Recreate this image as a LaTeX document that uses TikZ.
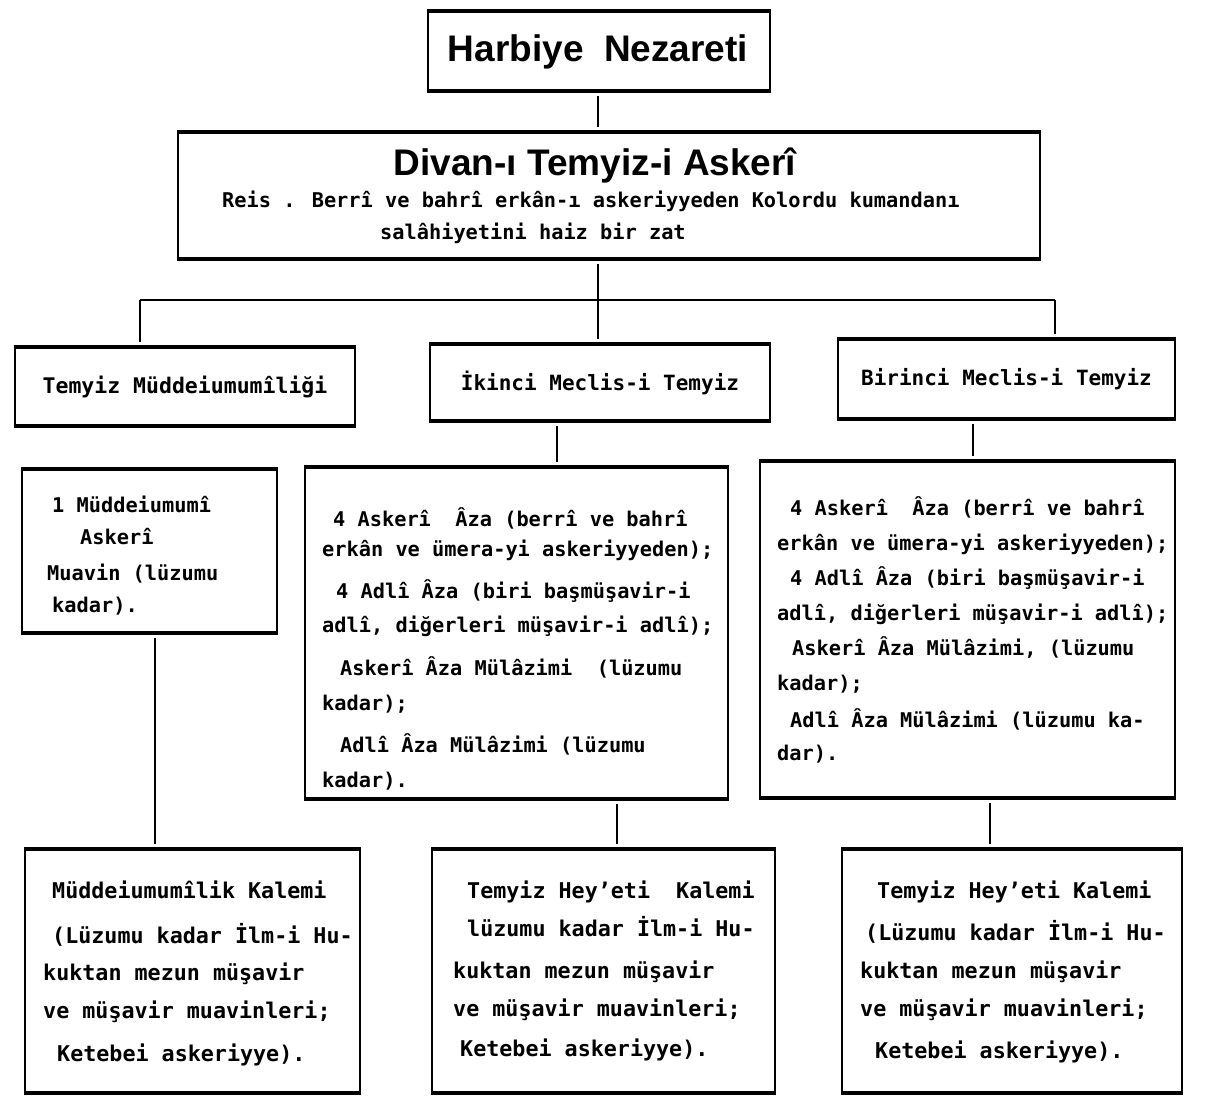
\documentclass[tikz,border=0pt]{standalone}
\usepackage{fontspec}
\setmainfont{DejaVu Sans Mono}
\newfontfamily\titlef{Liberation Sans}
\tikzset{
  box/.style={draw, line width=1.6pt, inner sep=0pt},
  edge/.style={line width=3.6pt},
  conn/.style={line width=1.7pt, shorten <=5pt, shorten >=5pt},
  ttl/.style={font=\titlef\bfseries\fontsize{37}{40}\selectfont},
  mid/.style={font=\bfseries\fontsize{21}{24}\selectfont},
  txt/.style={font=\bfseries\fontsize{20.3}{24}\selectfont, anchor=base west, inner sep=0pt},
  low/.style={font=\bfseries\fontsize{21.7}{24}\selectfont, anchor=base west, inner sep=0pt},
}
\newcommand\tl[5]{\node[#1] (#2) at (#3,-#4) {#5};}
\begin{document}
\begin{tikzpicture}[x=1pt,y=1pt]
\useasboundingbox (0,0) rectangle (1210,-1095);
\fill[white] (0,0) rectangle (1210,-1095);

% boxes
\node[box, minimum width=342, minimum height=78] (harb) at (599,-51) {};
\node[ttl] (htitle) at (598,-52) {Harbiye\ \ Nezareti};
\node[box, minimum width=862, minimum height=125] (divan) at (609,-195.5) {};
\node[box, mid, font=\bfseries\fontsize{21.5}{24}\selectfont, minimum width=340, minimum height=77] (temm) at (185,-386.5) {Temyiz Müddeiumumîliği};
\node[box, mid, minimum width=340, minimum height=75] (ikinci) at (600,-382.5) {İkinci Meclis-i Temyiz};
\node[box, mid, minimum width=337, minimum height=78] (birinci) at (1006.5,-379) {Birinci Meclis-i Temyiz};
\node[box, minimum width=255, minimum height=162] (mua) at (149.5,-551) {};
\node[box, minimum width=423, minimum height=330] (ikbox) at (516.5,-633) {};
\node[box, minimum width=415, minimum height=335] (bibox) at (967.5,-629.5) {};
\node[box, minimum width=335, minimum height=242] (kal1) at (192.5,-971) {};
\node[box, minimum width=343, minimum height=242] (kal2) at (603.5,-971) {};
\node[box, minimum width=340, minimum height=242] (kal3) at (1012,-971) {};

\foreach \n in {harb,divan,temm,ikinci,birinci,mua,ikbox,bibox,kal1,kal2,kal3}{
  \draw[edge] (\n.north west) -- (\n.north east);
  \draw[edge] (\n.south west) -- (\n.south east);
}

% divan texts
\node[ttl] (dtitle) at (595,-166) {Divan-ı Temyiz-i Askerî};
\tl{txt}{d2}{222}{207}{Reis . Berrî ve bahrî erkân-ı askeriyyeden Kolordu kumandanı}
\tl{txt}{d3}{380}{239}{salâhiyetini haiz bir zat}

% mua texts
\tl{txt}{m1}{52}{512}{1 Müddeiumumî}
\tl{txt}{m2}{80}{544}{Askerî}
\tl{txt}{m3}{47}{580}{Muavin (lüzumu}
\tl{txt}{m4}{52}{612}{kadar).}

% middle big box
\tl{txt}{a1}{333}{526}{4 Askerî\ \ Âza (berrî ve bahrî}
\tl{txt}{a2}{322}{556}{erkân ve ümera-yi askeriyyeden);}
\tl{txt}{a3}{336}{598}{4 Adlî Âza (biri başmüşavir-i}
\tl{txt}{a4}{322}{632}{adlî, diğerleri müşavir-i adlî);}
\tl{txt}{a5}{340}{675}{Askerî Âza Mülâzimi\ \ (lüzumu}
\tl{txt}{a6}{322}{710}{kadar);}
\tl{txt}{a7}{340}{752}{Adlî Âza Mülâzimi (lüzumu}
\tl{txt}{a8}{322}{787}{kadar).}

% right big box
\tl{txt}{b1}{790}{515}{4 Askerî\ \ Âza (berrî ve bahrî}
\tl{txt}{b2}{777}{550}{erkân ve ümera-yi askeriyyeden);}
\tl{txt}{b3}{790}{585}{4 Adlî Âza (biri başmüşavir-i}
\tl{txt}{b4}{777}{620}{adlî, diğerleri müşavir-i adlî);}
\tl{txt}{b5}{792}{655}{Askerî Âza Mülâzimi, (lüzumu}
\tl{txt}{b6}{777}{690}{kadar);}
\tl{txt}{b7}{790}{727}{Adlî Âza Mülâzimi (lüzumu ka-}
\tl{txt}{b8}{777}{760}{dar).}

% bottom left
\tl{low}{k11}{52}{898}{Müddeiumumîlik Kalemi}
\tl{low}{k12}{52}{943}{(Lüzumu kadar İlm-i Hu-}
\tl{low}{k13}{43}{980}{kuktan mezun müşavir}
\tl{low}{k14}{43}{1018}{ve müşavir muavinleri;}
\tl{low}{k15}{57}{1061}{Ketebei askeriyye).}

% bottom middle
\tl{low}{k21}{467}{898}{Temyiz Hey'eti\ \ Kalemi}
\tl{low}{k22}{467}{936}{lüzumu kadar İlm-i Hu-}
\tl{low}{k23}{453}{978}{kuktan mezun müşavir}
\tl{low}{k24}{453}{1016}{ve müşavir muavinleri;}
\tl{low}{k25}{460}{1056}{Ketebei askeriyye).}

% bottom right
\tl{low}{k31}{877}{898}{Temyiz Hey'eti Kalemi}
\tl{low}{k32}{865}{940}{(Lüzumu kadar İlm-i Hu-}
\tl{low}{k33}{860}{978}{kuktan mezun müşavir}
\tl{low}{k34}{860}{1016}{ve müşavir muavinleri;}
\tl{low}{k35}{875}{1058}{Ketebei askeriyye).}

% connectors
\coordinate (barL) at (140,-300);
\coordinate (barM) at (598,-300);
\coordinate (barR) at (1055,-300);
\draw[line width=2.8pt] (barL) -- (barR);
\draw[conn] (598,0 |- harb.south) -- (598,0 |- divan.north);
\draw[conn, shorten >=0pt] (598,0 |- divan.south) -- (barM);
\draw[conn, shorten <=0pt] (barL) -- (barL |- temm.north);
\draw[conn, shorten <=0pt] (barM) -- (barM |- ikinci.north);
\draw[conn, shorten <=0pt] (barR) -- (barR |- birinci.north);
\draw[conn] (557,0 |- ikinci.south) -- (557,0 |- ikbox.north);
\draw[conn] (973,0 |- birinci.south) -- (973,0 |- bibox.north);
\draw[conn] (155,0 |- mua.south) -- (155,0 |- kal1.north);
\draw[conn] (617,0 |- ikbox.south) -- (617,0 |- kal2.north);
\draw[conn] (990,0 |- bibox.south) -- (990,0 |- kal3.north);
\end{tikzpicture}
\end{document}
